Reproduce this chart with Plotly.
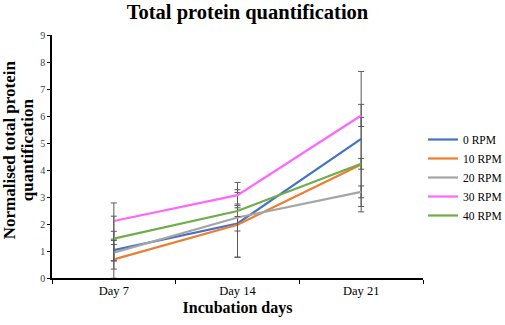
import plotly.graph_objects as go

days = ["Day 7", "Day 14", "Day 21"]
series_names = ["0 RPM", "10 RPM", "20 RPM", "30 RPM", "40 RPM"]
rpm0 = [1.03, 2.02, 5.15]
rpm10 = [0.69, 1.97, 4.20]
rpm20 = [0.94, 2.24, 3.19]
rpm30 = [2.11, 3.07, 6.02]
rpm40 = [1.46, 2.48, 4.23]
err0 = [0.70, 1.25, 2.50]
err10 = [0.70, 1.20, 1.75]
err20 = [0.30, 0.50, 0.22]
err30 = [0.67, 0.47, 0.41]
err40 = [0.83, 0.20, 0.20]
y_ticks = [0, 1, 2, 3, 4, 5, 6, 7, 8, 9]
y_title_lines = ["Normalised total protein", "quantification"]

colors = ["#4472C4", "#ED7D31", "#A5A5A5", "#FF66FF", "#70AD47"]
values = [rpm0, rpm10, rpm20, rpm30, rpm40]
errors = [err0, err10, err20, err30, err40]

font_family = "Liberation Serif, Times New Roman, serif"

W, H = 505, 325
L, R, T, B = 52, 80, 35, 47
plot_w = W - L - R
plot_h = H - T - B

fig = go.Figure()
for name, vals, errs, col in zip(series_names, values, errors, colors):
    fig.add_trace(go.Scatter(
        x=days, y=vals, name=name, mode="lines",
        line=dict(color=col, width=2.2),
        error_y=dict(type="data", array=errs, visible=True,
                     color="#595959", thickness=1, width=3),
    ))

# two-line rotated y-axis title as annotations
for txt, px_x in zip(y_title_lines, [9, 27]):
    fig.add_annotation(
        text="<b>%s</b>" % txt, textangle=-90, showarrow=False,
        xref="paper", yref="paper",
        x=(px_x - L) / plot_w, y=(H - B - 150) / plot_h,
        xanchor="center", yanchor="middle",
        font=dict(size=17, family=font_family, color="black"),
    )

fig.update_layout(
    width=W, height=H,
    margin=dict(l=L, r=R, t=T, b=B),
    paper_bgcolor="white", plot_bgcolor="white",
    font=dict(family=font_family, color="black", size=11),
    title=dict(text="<b>Total protein quantification</b>", x=247.5 / W, xanchor="center",
               xref="container", yref="container",
               y=1 - 11.5 / H, yanchor="middle", font=dict(size=20.5, family=font_family)),
    showlegend=True,
    legend=dict(xref="container", yref="container",
                x=423 / W, xanchor="left", y=1 - 177.5 / H, yanchor="middle",
                font=dict(size=11.5, family=font_family), tracegroupgap=0,
                itemwidth=30, bgcolor="rgba(0,0,0,0)"),
    xaxis=dict(
        type="category", range=[-0.5, 2.5],
        showline=True, linecolor="black", linewidth=1.5,
        ticks="outside", tickson="boundaries", ticklen=4, tickcolor="black",
        showgrid=False, zeroline=False, automargin=False,
        title=dict(text="<b>Incubation days</b>", font=dict(size=16, family=font_family), standoff=5),
        tickfont=dict(size=12.5, family=font_family, color="black"),
    ),
    yaxis=dict(
        range=[0, 9], tickvals=y_ticks,
        showline=True, linecolor="black", linewidth=1.5,
        ticks="outside", ticklen=3, tickcolor="black",
        showgrid=False, zeroline=False, automargin=False,
        tickfont=dict(size=10, family=font_family, color="#404040"),
    ),
)

fig.write_html("out.html", config={"displayModeBar": False},
               post_script="document.body.style.margin='0';")
